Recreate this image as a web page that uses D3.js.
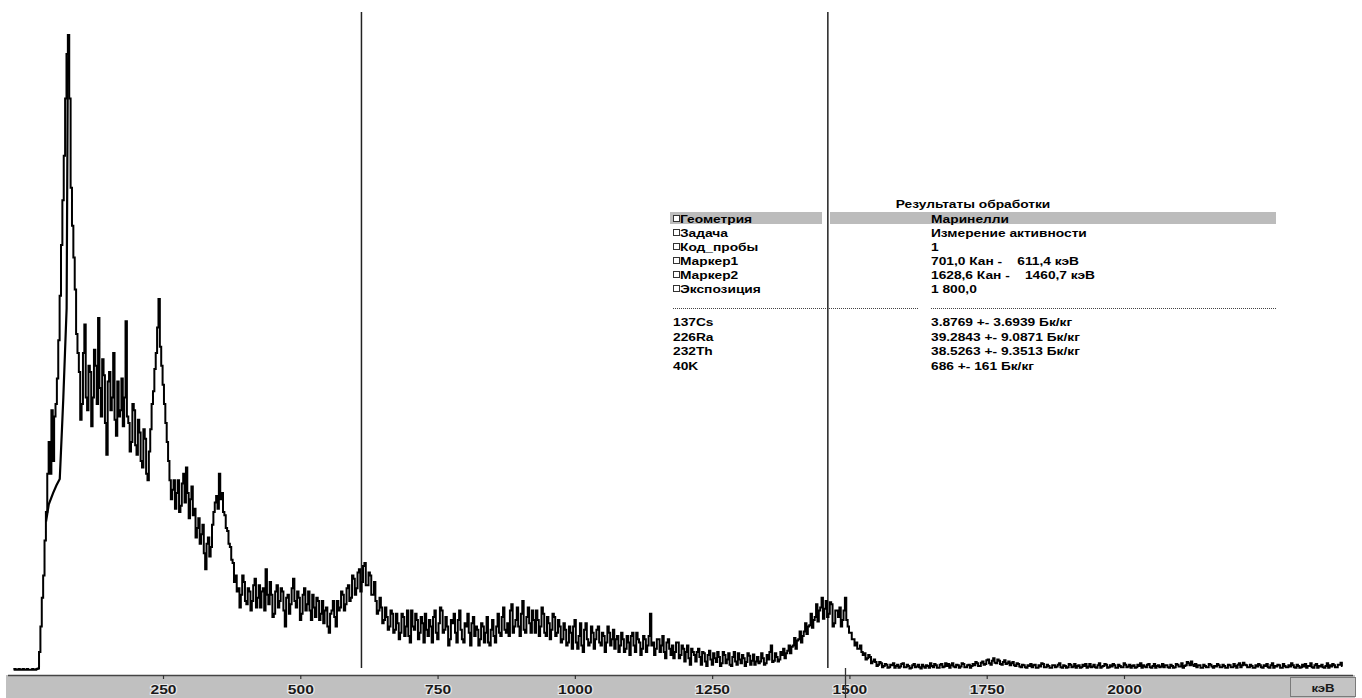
<!DOCTYPE html>
<html>
<head>
<meta charset="utf-8">
<script src="https://cdn.jsdelivr.net/npm/d3@7"></script>
<style>
    html, body { margin: 0; padding: 0; background: #fff; }
    svg { display: block; }
    text { font-family: "Liberation Sans", Arial, sans-serif; }
</style>
</head>
<body>
<div id="chart"></div>
<script>
// Спектр: отсчёты по каналам (шаг 2.5 кэВ, начиная с -22 кэВ)
const energyStart = -22;
const energyStep = 2.5;
const counts = [
    2, 3, 2, 2, 3, 2, 2, 3, 2, 2, 3, 2, 2, 2, 3, 2, 2, 3, 4, 30,
    70, 115, 150, 205, 250, 310, 360, 310, 410, 330, 400, 420, 460, 520, 590, 670, 740, 810, 900, 970,
    1000, 900, 760, 700, 650, 600, 530, 500, 470, 395, 420, 500, 545, 430, 410, 480, 470, 385, 430, 505,
    480, 420, 555, 445, 400, 490, 465, 390, 340, 455, 470, 410, 430, 500, 395, 370, 455, 400, 410, 460,
    385, 430, 550, 400, 390, 345, 360, 420, 410, 355, 340, 395, 375, 330, 320, 380, 365, 310, 300, 345,
    380, 420, 440, 475, 500, 540, 585, 510, 480, 450, 420, 390, 360, 330, 300, 270, 285, 300, 255, 280,
    300, 250, 260, 295, 310, 265, 320, 280, 240, 270, 290, 245, 255, 210, 225, 240, 200, 215, 230, 185,
    160, 200, 210, 180, 195, 230, 250, 265, 275, 255, 310, 270, 280, 250, 245, 225, 220, 200, 195, 175,
    170, 140, 150, 125, 130, 100, 120, 150, 140, 110, 105, 130, 125, 95, 110, 135, 145, 100, 115, 135,
    100, 125, 130, 95, 160, 120, 105, 140, 120, 85, 90, 125, 135, 100, 110, 130, 125, 95, 70, 115,
    120, 90, 105, 130, 145, 110, 100, 125, 115, 80, 90, 120, 130, 95, 105, 125, 95, 80, 120, 100,
    85, 115, 110, 80, 90, 110, 75, 95, 100, 70, 60, 90, 95, 110, 85, 70, 110, 95, 100, 125,
    120, 95, 105, 130, 135, 110, 115, 150, 145, 120, 130, 155, 160, 125, 140, 165, 170, 135, 135, 155,
    150, 120, 120, 140, 110, 90, 95, 115, 100, 75, 80, 100, 85, 65, 70, 95, 90, 60, 65, 90,
    75, 50, 60, 90, 85, 55, 70, 95, 55, 45, 95, 70, 65, 90, 80, 50, 60, 85, 75, 45,
    90, 65, 55, 80, 70, 45, 85, 95, 60, 50, 75, 100, 95, 60, 65, 85, 70, 40, 50, 80,
    75, 90, 60, 45, 80, 95, 65, 50, 45, 75, 70, 90, 60, 40, 75, 85, 55, 70, 65, 40,
    50, 75, 70, 45, 60, 85, 45, 40, 65, 80, 55, 45, 70, 90, 60, 55, 85, 100, 65, 60,
    75, 55, 95, 105, 60, 70, 80, 100, 70, 55, 90, 110, 65, 60, 85, 100, 75, 60, 95, 80,
    60, 95, 80, 55, 70, 100, 90, 60, 55, 85, 75, 50, 65, 90, 85, 55, 60, 80, 70, 45,
    50, 75, 65, 40, 45, 70, 60, 35, 70, 80, 45, 35, 55, 75, 40, 30, 65, 75, 50, 40,
    45, 70, 60, 35, 50, 65, 70, 45, 40, 60, 55, 30, 45, 70, 60, 40, 50, 65, 35, 50,
    55, 30, 40, 60, 50, 30, 35, 55, 45, 25, 55, 60, 40, 30, 60, 50, 45, 25, 35, 55,
    50, 30, 40, 55, 90, 40, 45, 25, 35, 50, 50, 30, 40, 55, 30, 20, 45, 50, 35, 25,
    40, 20, 30, 45, 45, 20, 25, 40, 35, 15, 30, 40, 20, 10, 35, 30, 25, 15, 30, 35,
    22, 10, 30, 28, 15, 8, 25, 32, 18, 10, 28, 20, 14, 30, 22, 8, 12, 30, 25, 12,
    18, 28, 10, 8, 22, 30, 15, 10, 28, 18, 12, 25, 20, 8, 14, 28, 24, 10, 16, 26,
    10, 15, 22, 12, 15, 28, 20, 10, 12, 25, 18, 30, 40, 14, 16, 28, 22, 15, 18, 30,
    25, 35, 20, 28, 32, 40, 28, 38, 40, 52, 35, 48, 50, 62, 45, 55, 62, 75, 58, 70,
    72, 90, 68, 80, 85, 105, 78, 95, 100, 115, 82, 98, 110, 85, 90, 108, 105, 70, 75, 95,
    95, 85, 100, 70, 80, 95, 115, 80, 70, 60, 60, 50, 50, 40, 45, 35, 35, 40, 30, 25,
    28, 18, 20, 25, 22, 12, 15, 18, 14, 8, 10, 14, 12, 6, 8, 11, 10, 5, 6, 10,
    9, 12, 5, 8, 10, 5, 7, 11, 12, 6, 6, 10, 8, 4, 5, 9, 11, 6, 7, 10,
    6, 4, 10, 7, 5, 9, 8, 5, 12, 8, 6, 11, 9, 5, 5, 10, 11, 6, 7, 12,
    8, 11, 5, 9, 12, 7, 6, 10, 9, 5, 7, 12, 11, 6, 6, 9, 10, 5, 8, 11,
    9, 14, 12, 8, 8, 13, 15, 10, 11, 17, 18, 12, 10, 16, 20, 13, 12, 18, 16, 11,
    10, 14, 17, 11, 12, 15, 9, 12, 14, 9, 8, 12, 11, 7, 6, 10, 9, 6, 5, 9,
    8, 11, 6, 9, 10, 5, 5, 9, 7, 12, 11, 6, 6, 10, 8, 5, 5, 9, 9, 6,
    7, 10, 12, 6, 5, 9, 8, 5, 6, 11, 10, 6, 7, 11, 5, 8, 9, 5, 6, 10,
    8, 11, 5, 7, 11, 6, 7, 10, 6, 5, 9, 12, 5, 7, 8, 11, 10, 5, 6, 9,
    7, 11, 9, 5, 5, 10, 8, 6, 6, 12, 10, 6, 7, 10, 5, 8, 9, 5, 6, 10,
    8, 12, 5, 9, 7, 6, 10, 11, 6, 5, 8, 11, 5, 8, 9, 6, 7, 11, 6, 9,
    9, 6, 5, 10, 8, 5, 6, 11, 10, 7, 7, 12, 5, 8, 9, 14, 12, 9, 15, 10,
    8, 11, 6, 9, 9, 5, 5, 10, 8, 6, 6, 11, 10, 7, 5, 8, 7, 11, 9, 6,
    6, 10, 8, 5, 5, 10, 9, 6, 6, 11, 8, 5, 10, 12, 6, 9, 13, 10, 9, 6,
    6, 10, 8, 5, 5, 9, 7, 11, 9, 6, 5, 9, 8, 11, 6, 5, 9, 12, 5, 8,
    7, 10, 9, 5, 5, 11, 8, 6, 6, 9, 7, 12, 9, 6, 5, 10, 8, 5, 6, 10,
    7, 11, 5, 8, 8, 12, 6, 5, 9, 11, 5, 8, 7, 10, 6, 5, 8, 12, 5, 9,
    7, 11, 9, 6, 6, 10, 10, 13, 8
];

// Второй контур на фронте первого пика
const innerEnergies = [37, 42, 50, 56, 62, 66, 68.5, 71.5, 74.5, 75.5, 76.5, 78];
const innerCounts = [235, 262, 280, 292, 302, 380, 430, 500, 570, 750, 920, 1000];

// Маркеры, кэВ
const markers = [611.4, 1460.7];

// Подписи оси
const tickValues = [250, 500, 750, 1000, 1250, 1500, 1750, 2000];

// Таблица результатов
const tableTitle = "Результаты обработки";
const paramNames = ["Геометрия", "Задача", "Код_пробы", "Маркер1", "Маркер2", "Экспозиция"];
const paramValues = ["Маринелли", "Измерение активности", "1", "701,0 Кан -    611,4 кэВ", "1628,6 Кан -    1460,7 кэВ", "1 800,0"];
const nuclides = ["137Cs", "226Ra", "232Th", "40K"];
const activities = ["3.8769 +- 3.6939 Бк/кг", "39.2843 +- 9.0871 Бк/кг", "38.5263 +- 9.3513 Бк/кг", "686 +- 161 Бк/кг"];

const width = 1362, height = 698;
const stretch = 1.25; // текст в оригинале растянут по горизонтали

const svg = d3.select("#chart")
    .append("svg")
    .attr("width", width)
    .attr("height", height);

// Шкалы
const x = d3.scaleLinear().domain([250, 2000]).range([163, 1124]);
const y = d3.scaleLinear().domain([0, 1000]).range([671, 35]);

const spectrum = counts.map((c, i) => ({ e: energyStart + i * energyStep, c: c }));
const inner = innerEnergies.map((e, i) => ({ e: e, c: innerCounts[i] }));

// Спектр рисуется ступеньками, как гистограмма по каналам
const stepLine = d3.line()
    .curve(d3.curveStep)
    .x(d => x(d.e))
    .y(d => y(d.c));

const line = d3.line()
    .x(d => x(d.e))
    .y(d => y(d.c));

// Ось (серая полоса снизу)
svg.append("rect")
    .attr("x", 6).attr("y", 675)
    .attr("width", 1349).attr("height", 23)
    .attr("fill", "#c0c0c0");

svg.append("line")
    .attr("x1", 8).attr("x2", 1353)
    .attr("y1", 675.5).attr("y2", 675.5)
    .attr("stroke", "#444").attr("stroke-width", 1.5);

const axis = svg.append("g")
    .attr("transform", "translate(0,675)")
    .call(d3.axisBottom(x).tickValues(tickValues).tickSize(4).tickFormat(d3.format("d")));
axis.select(".domain").remove();
axis.selectAll(".tick line").attr("stroke", "#333").attr("stroke-width", 1.2);
axis.selectAll(".tick text")
    .attr("y", 0).attr("dy", 0)
    .attr("transform", `translate(0,19) scale(1.3,1)`)
    .attr("fill", "#1a1a1a")
    .attr("stroke", "#e8e8e8").attr("stroke-width", 2).attr("paint-order", "stroke")
    .style("font-size", "12px").style("font-weight", "bold")
    .style("font-family", "'Liberation Sans', Arial, sans-serif");

// Блок единиц
svg.append("rect")
    .attr("x", 1290.5).attr("y", 677.5)
    .attr("width", 65).attr("height", 19)
    .attr("fill", "#c4c4c4").attr("stroke", "#7a7a7a");
svg.append("text")
    .attr("transform", `translate(1323,692) scale(1.2,1)`)
    .attr("text-anchor", "middle")
    .attr("fill", "#1a1a1a")
    .style("font-size", "11px").style("font-weight", "bold")
    .text("кэВ");

// Курсор на оси
svg.append("line")
    .attr("x1", 845.5).attr("x2", 845.5)
    .attr("y1", 668).attr("y2", 698)
    .attr("stroke", "#333").attr("stroke-width", 1.3);

// Таблица
const tbl = svg.append("g");
const rowY = d => 223 + d * 14;

tbl.append("text")
    .attr("transform", `translate(973,208) scale(${stretch},1)`)
    .attr("text-anchor", "middle")
    .style("font-size", "11px").style("font-weight", "bold")
    .text(tableTitle);

tbl.append("rect").attr("x", 670).attr("y", 212).attr("width", 152).attr("height", 12).attr("fill", "#bcbcbc");
tbl.append("rect").attr("x", 830).attr("y", 212).attr("width", 446).attr("height", 12).attr("fill", "#bcbcbc");

paramNames.forEach((name, i) => {
    tbl.append("rect")
        .attr("x", 673.5).attr("y", rowY(i) - 7.5)
        .attr("width", 6).attr("height", 6)
        .attr("fill", "#fff").attr("stroke", "#333").attr("stroke-width", 1);
    tbl.append("text")
        .attr("transform", `translate(680,${rowY(i)}) scale(${stretch},1)`)
        .style("font-size", "11px").style("font-weight", "bold")
        .text(name);
    tbl.append("text")
        .attr("transform", `translate(931,${rowY(i)}) scale(${stretch},1)`)
        .style("font-size", "11px").style("font-weight", "bold")
        .style("white-space", "pre")
        .text(paramValues[i]);
});

// Пунктир-разделитель
[[673, 918], [931, 1276]].forEach(([a, b]) => {
    tbl.append("line")
        .attr("x1", a).attr("x2", b)
        .attr("y1", 308.5).attr("y2", 308.5)
        .attr("stroke", "#444").attr("stroke-width", 1)
        .attr("stroke-dasharray", "1,1");
});

nuclides.forEach((n, i) => {
    const yy = 326 + i * 14.5;
    tbl.append("text")
        .attr("transform", `translate(673,${yy}) scale(${stretch},1)`)
        .style("font-size", "11px").style("font-weight", "bold")
        .text(n);
    tbl.append("text")
        .attr("transform", `translate(931,${yy}) scale(${stretch},1)`)
        .style("font-size", "11px").style("font-weight", "bold")
        .text(activities[i]);
});

// Линии маркеров
svg.selectAll(".marker")
    .data(markers)
    .enter()
    .append("line")
    .attr("class", "marker")
    .attr("x1", d => x(d)).attr("x2", d => x(d))
    .attr("y1", 12).attr("y2", 668)
    .attr("stroke", "#222").attr("stroke-width", 1.5);

// Спектр
svg.append("path")
    .datum(spectrum)
    .attr("d", stepLine)
    .attr("fill", "none")
    .attr("stroke", "#000")
    .attr("stroke-width", 2)
    .attr("stroke-linejoin", "miter");

svg.append("path")
    .datum(inner)
    .attr("d", line)
    .attr("fill", "none")
    .attr("stroke", "#000")
    .attr("stroke-width", 2.2);
</script>
</body>
</html>
